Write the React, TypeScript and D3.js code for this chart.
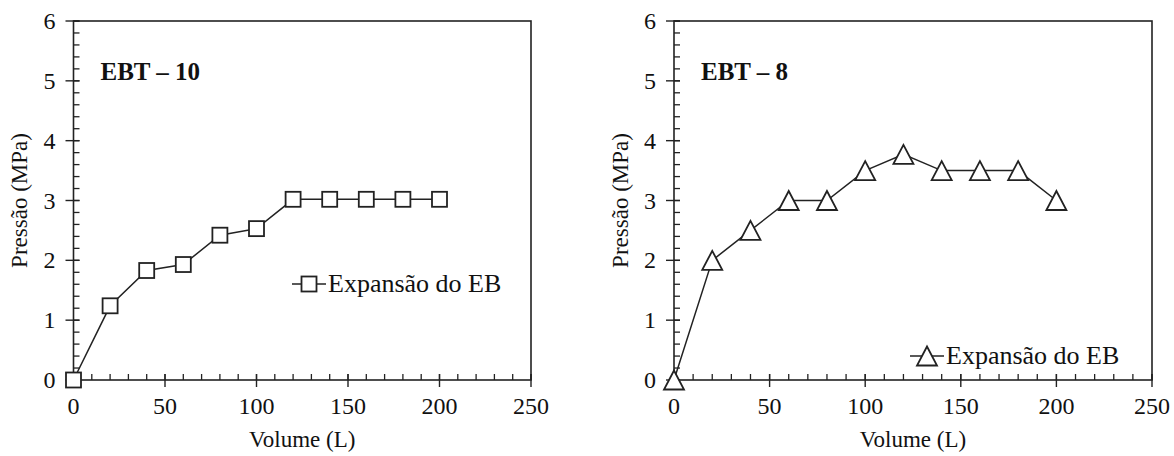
import React from "react";
import * as d3 from "d3";

const volumes = [0, 20, 40, 60, 80, 100, 120, 140, 160, 180, 200];
const pressureEBT10 = [0, 1.24, 1.83, 1.93, 2.42, 2.53, 3.02, 3.02, 3.02, 3.02, 3.02];
const pressureEBT8 = [0, 2.0, 2.5, 3.0, 3.0, 3.5, 3.77, 3.5, 3.5, 3.5, 3.0];
const xTicks = [0, 50, 100, 150, 200, 250];
const yTicks = [0, 1, 2, 3, 4, 5, 6];
const xMinor = d3.range(0, 251, 10);
const yMinor = d3.range(0, 6.01, 0.2);

const INK = "#222";

type PanelProps = {
  x0: number; x1: number; y0: number; y1: number;
  values: number[]; label: string; marker: "square" | "triangle";
  legendX: number; legendY: number; yTitleX: number;
};

function T(props: any) {
  const { children, ...rest } = props;
  return (
    <text {...rest} fontFamily="Liberation Serif" style={{ fontFamily: '"Liberation Serif"' }} fill="#111">
      {children}
    </text>
  );
}

function Marker({ kind, cx, cy }: { kind: string; cx: number; cy: number }) {
  if (kind === "square") {
    const s = 15;
    return <rect x={cx - s / 2} y={cy - s / 2} width={s} height={s} fill="#fff" stroke={INK} strokeWidth={1.8} />;
  }
  const w = 20, h = 19;
  const p = `M${cx},${cy - h / 2} L${cx + w / 2},${cy + h / 2} L${cx - w / 2},${cy + h / 2} Z`;
  return <path d={p} fill="#fff" stroke={INK} strokeWidth={1.8} strokeLinejoin="miter" />;
}

function Panel(p: PanelProps) {
  const x = d3.scaleLinear().domain([0, 250]).range([p.x0, p.x1]);
  const y = d3.scaleLinear().domain([0, 6]).range([p.y1, p.y0]);
  const line = d3.line<number>().x((_, i) => x(volumes[i])).y((v) => y(v));
  return (
    <g>
      <rect x={p.x0} y={p.y0} width={p.x1 - p.x0} height={p.y1 - p.y0} fill="none" stroke={INK} strokeWidth={1.6} />
      {xMinor.map((t) => (
        <line key={"xm" + t} x1={x(t)} x2={x(t)} y1={p.y1} y2={p.y1 - 6} stroke={INK} strokeWidth={1.3} />
      ))}
      {yMinor.map((t, i) => (
        <line key={"ym" + i} x1={p.x0} x2={p.x0 + 6} y1={y(t)} y2={y(t)} stroke={INK} strokeWidth={1.3} />
      ))}
      {xTicks.map((t) => (
        <g key={"xt" + t}>
          <line x1={x(t)} x2={x(t)} y1={p.y1 - 6} y2={p.y1 + 7} stroke={INK} strokeWidth={1.4} />
          <T x={x(t)} y={p.y1 + 34} textAnchor="middle" fontSize={24}>{String(t)}</T>
        </g>
      ))}
      {yTicks.map((t) => (
        <g key={"yt" + t}>
          <line x1={p.x0 - 8} x2={p.x0 + 6} y1={y(t)} y2={y(t)} stroke={INK} strokeWidth={1.4} />
          <T x={p.x0 - 18} y={y(t) + 8} textAnchor="end" fontSize={24}>{String(t)}</T>
        </g>
      ))}
      <path d={line(p.values) || ""} fill="none" stroke={INK} strokeWidth={1.5} />
      {p.values.map((v, i) => (
        <Marker key={"m" + i} kind={p.marker} cx={x(volumes[i])} cy={y(v)} />
      ))}
      <T x={p.x0 + 27} y={p.y0 + 59} fontSize={25} fontWeight="bold">{p.label}</T>
      <line x1={p.legendX} x2={p.legendX + 34} y1={p.legendY} y2={p.legendY} stroke={INK} strokeWidth={1.5} />
      <Marker kind={p.marker} cx={p.legendX + 17} cy={p.legendY} />
      <T x={p.legendX + 36} y={p.legendY + 8} fontSize={26}>Expansão do EB</T>
      <T x={(p.x0 + p.x1) / 2} y={p.y1 + 67} textAnchor="middle" fontSize={23}>Volume (L)</T>
      <T transform={`translate(${p.yTitleX},${(p.y0 + p.y1) / 2}) rotate(-90)`} textAnchor="middle" fontSize={23}>Pressão (MPa)</T>
    </g>
  );
}

export default function App() {
  return (
    <div style={{ position: "absolute", left: 0, top: 0 }}>
      <svg width={1174} height={456} style={{ display: "block", background: "#fff" }}>
        <Panel x0={73.5} x1={531} y0={21} y1={380} values={pressureEBT10} label="EBT – 10" marker="square" legendX={292} legendY={284} yTitleX={27} />
        <Panel x0={674} x1={1152} y0={21} y1={380} values={pressureEBT8} label="EBT – 8" marker="triangle" legendX={910} legendY={356} yTitleX={628} />
      </svg>
    </div>
  );
}
